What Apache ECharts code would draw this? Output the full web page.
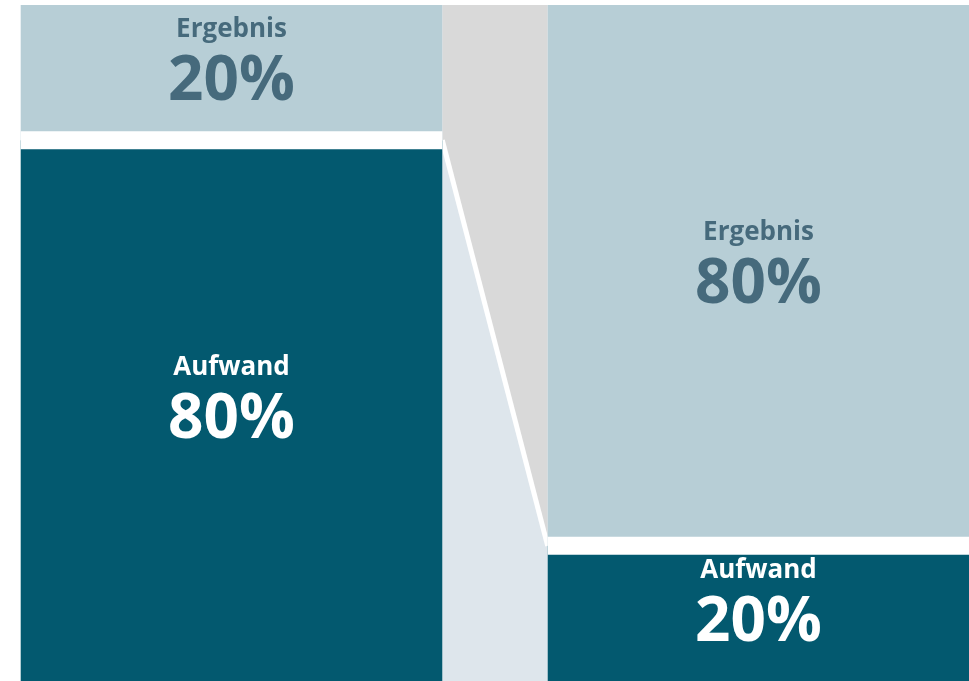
<!DOCTYPE html>
<html>
<head>
    <meta charset="utf-8"/>
    <title>Aufwand / Ergebnis</title>
    <script src="https://cdn.jsdelivr.net/npm/echarts@6.0.0/dist/echarts.min.js"></script>
    <style>html,body{margin:0;padding:0;background:#fff;}</style>
</head>
<body>
<div id="chart" style="width: 969px;height:681px;"></div>
<script type="text/javascript">
    var categories = ['Vorher', 'Nachher'];
    var aufwand = [80, 20];
    var ergebnis = [20, 80];

    var dark = '#03596F';
    var light = '#B7CED6';
    var barRatio = 0.8;

    function label(color) {
        return {
            show: true,
            position: 'inside',
            offset: [0, -12],
            color: color,
            fontFamily: 'Open Sans',
            formatter: function (p) {
                return '{n|' + p.seriesName + '}\n{v|' + p.value + '%}';
            },
            rich: {
                n: { fontSize: 26, fontWeight: 'bold', lineHeight: 44, fontFamily: 'Open Sans', color: color },
                v: { fontSize: 62, fontWeight: 'bold', lineHeight: 62, fontFamily: 'Open Sans', color: color }
            }
        };
    }

    var option = {
        animation: false,
        // grid ragt links/rechts ueber den Rand, damit die Balken bei 20px bzw. am rechten Rand liegen
        grid: { left: -32, right: -53, top: 5, bottom: 0, outerBoundsMode: 'none' },
        xAxis: { type: 'category', data: categories, show: false },
        yAxis: { type: 'value', min: 0, max: 100, show: false },
        series: [
            {
                // Verbindungsflaeche zwischen den Balken
                type: 'custom',
                z: 1,
                data: [[0]],
                renderItem: function (params, api) {
                    var bw = api.size([1, 0])[0] * barRatio;
                    var pL = api.coord([0, aufwand[0]]);
                    var pR = api.coord([1, aufwand[1]]);
                    var xL = pL[0] + bw / 2, xR = pR[0] - bw / 2;
                    var yTop = api.coord([0, 100])[1], yBot = api.coord([0, 0])[1];
                    return {
                        type: 'group',
                        children: [
                            { type: 'polygon', shape: { points: [[xL, yTop], [xR, yTop], [xR, pR[1]], [xL, pL[1]]] }, style: { fill: '#D9D9D9' } },
                            { type: 'polygon', shape: { points: [[xL, pL[1]], [xR, pR[1]], [xR, yBot], [xL, yBot]] }, style: { fill: '#DEE6EC' } },
                            { type: 'line', shape: { x1: xL, y1: pL[1], x2: xR, y2: pR[1] }, style: { stroke: '#fff', lineWidth: 5 } }
                        ]
                    };
                }
            },
            {
                name: 'Aufwand',
                type: 'bar',
                stack: 'a',
                barWidth: '80%',
                itemStyle: { color: dark },
                label: label('#ffffff'),
                data: aufwand
            },
            {
                name: 'Ergebnis',
                type: 'bar',
                stack: 'a',
                itemStyle: { color: light },
                label: label('#466A7C'),
                data: ergebnis
            },
            {
                // weisse Trennfuge zwischen den Segmenten
                type: 'custom',
                z: 5,
                data: aufwand.map(function (v, i) { return [i, v]; }),
                renderItem: function (params, api) {
                    var bw = api.size([1, 0])[0] * barRatio;
                    var p = api.coord([api.value(0), api.value(1)]);
                    return { type: 'rect', shape: { x: p[0] - bw / 2, y: p[1] - 9, width: bw, height: 18 }, style: { fill: '#fff' } };
                }
            }
        ]
    };
    var chart = echarts.init(document.getElementById('chart'));
    chart.setOption(option);
</script>
</body>
</html>
